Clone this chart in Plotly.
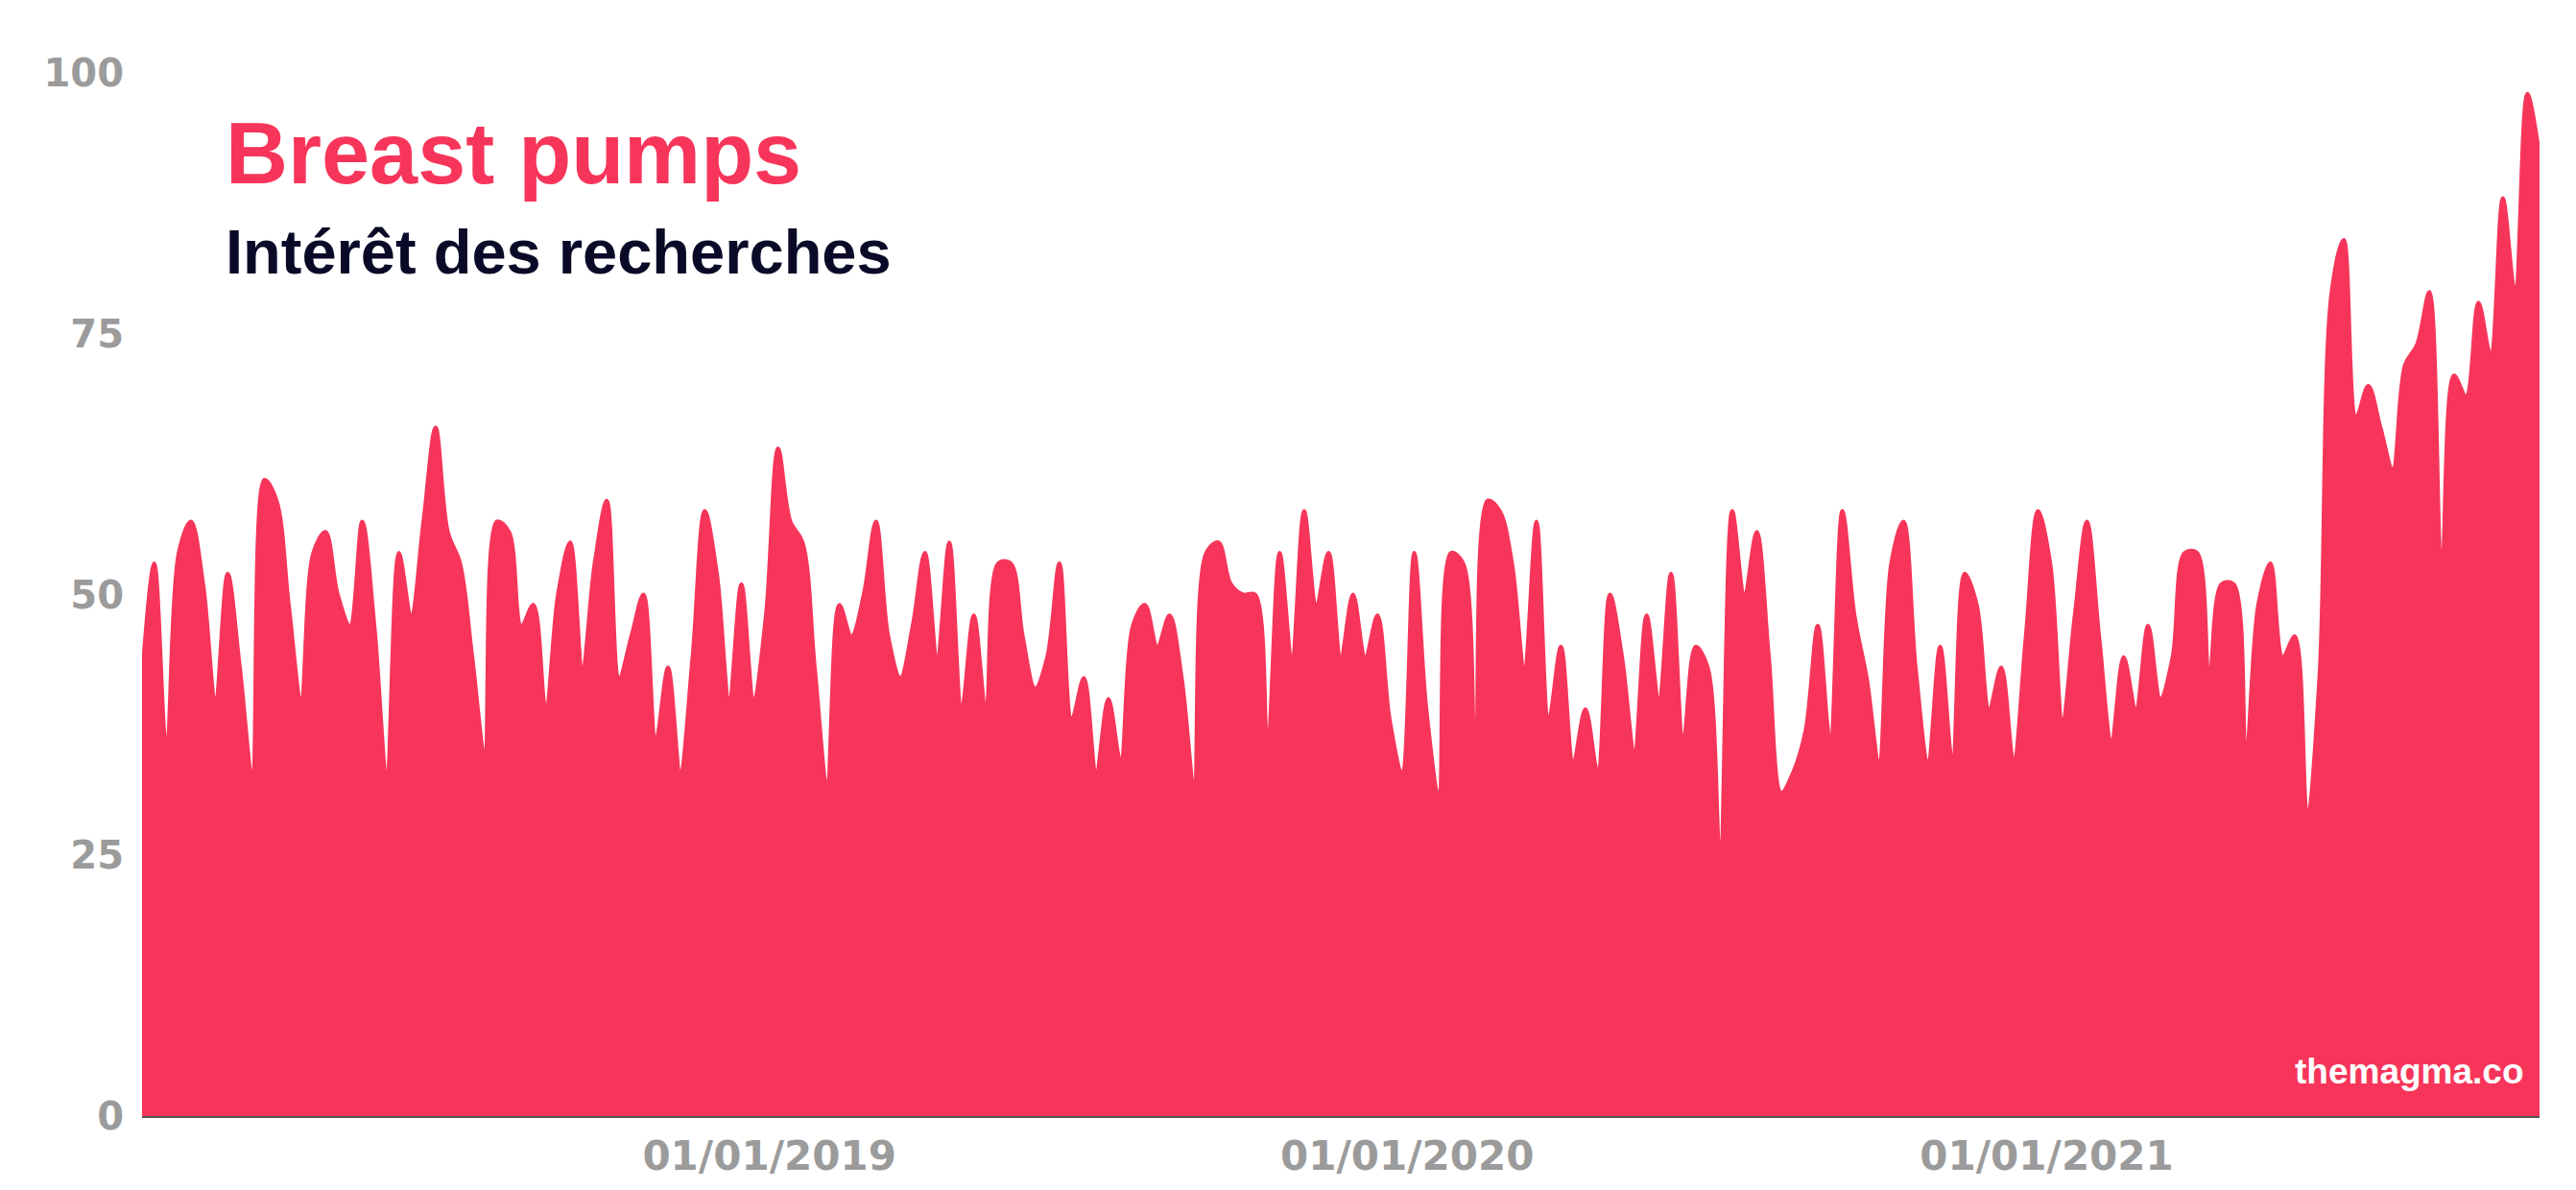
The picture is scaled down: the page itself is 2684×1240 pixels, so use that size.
import pandas as pd
import plotly.graph_objects as go

# Weekly search interest, Google-Trends style (week starting Sunday)
start_week = "2018-01-07"
n_weeks = 197
interest = [
    42, 53, 35, 54, 57, 51, 40, 52, 43, 33,
    61, 59, 49, 40, 54, 56, 50, 47, 57, 47,
    33, 54, 48, 57, 66, 56, 53, 44, 35, 57,
    56, 47, 49, 39, 50, 55, 43, 53, 59, 42,
    46, 50, 36, 43, 33, 44, 58, 52, 40, 51,
    40, 48, 64, 57, 55, 43, 32, 49, 46, 50,
    57, 46, 42, 47, 54, 44, 55, 39, 48, 39,
    53, 53, 46, 41, 44, 53, 38, 42, 33, 40,
    34, 47, 49, 45, 48, 42, 32, 54, 55, 51,
    50, 50, 36, 54, 44, 58, 49, 54, 44, 50,
    44, 48, 38, 33, 54, 39, 31, 54, 53, 34,
    59, 58, 53, 43, 57, 38, 45, 34, 39, 33,
    50, 44, 35, 48, 40, 52, 36, 45, 43, 25,
    58, 50, 56, 44, 31, 33, 37, 47, 36, 58,
    48, 42, 34, 53, 57, 43, 34, 45, 34, 52,
    49, 39, 43, 34, 46, 58, 53, 38, 48, 57,
    46, 36, 44, 39, 47, 40, 44, 54, 54, 42,
    51, 51, 35, 49, 53, 44, 46, 29, 42, 79,
    84, 67, 70, 66, 62, 72, 74, 79, 52, 71,
    69, 78, 73, 88, 79, 98, 92,
]
tick_dates = ["2019-01-01", "2020-01-01", "2021-01-01"]
tick_labels = ["01/01/2019", "01/01/2020", "01/01/2021"]
y_ticks = [0, 25, 50, 75, 100]

title_text = "Breast pumps"
subtitle_text = "Intérêt des recherches"
credit_text = "themagma.co"

RED = "#F7355A"
NAVY = "#0A0A28"
GREY = "#9B9B9B"

dates = pd.date_range(start_week, periods=n_weeks, freq="7D")

fig = go.Figure()
fig.add_trace(go.Scatter(
    x=dates, y=interest,
    mode="lines",
    line=dict(color=RED, width=4, shape="spline", smoothing=1.0),
    fill="tozeroy",
    fillcolor=RED,
    hoverinfo="x+y",
    showlegend=False,
))

fig.update_layout(
    width=2684, height=1240,
    margin=dict(l=140, r=46, t=68, b=85),
    paper_bgcolor="white",
    plot_bgcolor="white",
    xaxis=dict(
        type="date",
        range=[dates[0], dates[-1]],
        tickvals=tick_dates,
        ticktext=tick_labels,
        showgrid=False,
        zeroline=False,
        showline=True,
        linecolor="#555555",
        linewidth=2,
        ticks="",
        ticklabelstandoff=4,
        tickfont=dict(family="DejaVu Sans", size=42, color=GREY, weight="bold"),
    ),
    yaxis=dict(
        range=[0, 100],
        tickvals=y_ticks,
        showgrid=False,
        zeroline=False,
        showline=False,
        ticks="",
        ticklabelstandoff=18,
        tickfont=dict(family="DejaVu Sans", size=40, color=GREY, weight="bold"),
    ),
    annotations=[
        dict(text=title_text, xref="paper", yref="paper", x=0.034, y=0.923,
             xanchor="left", yanchor="middle", showarrow=False,
             font=dict(family="Liberation Sans", size=90, color=RED, weight="bold")),
        dict(text=subtitle_text, xref="paper", yref="paper", x=0.034, y=0.828,
             xanchor="left", yanchor="middle", showarrow=False,
             font=dict(family="Liberation Sans", size=65, color=NAVY, weight="bold")),
        dict(text=credit_text, xref="paper", yref="paper", x=0.9944, y=0.043,
             xanchor="right", yanchor="middle", showarrow=False,
             font=dict(family="Liberation Sans", size=37, color="white", weight="bold")),
    ],
)

fig.write_html("out.html")
